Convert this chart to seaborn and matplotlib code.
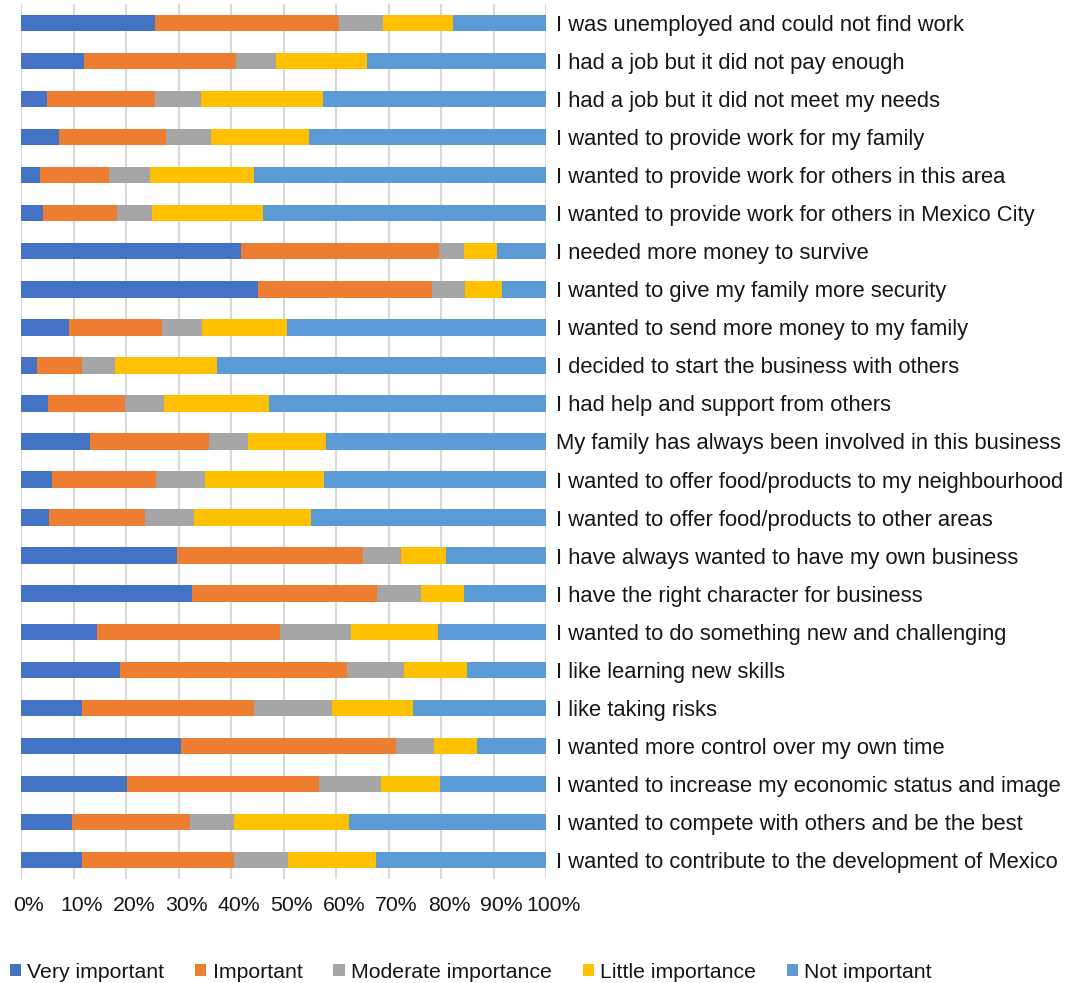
import matplotlib
matplotlib.use("Agg")
import matplotlib.pyplot as plt
import matplotlib.transforms as mtransforms
from matplotlib.patches import Patch
import numpy as np
import pandas as pd
import seaborn as sns

# Reasons for starting a business, share of responses per importance level (%)
reasons = [
    "I was unemployed and could not find work",
    "I had a job but it did not pay enough",
    "I had a job but it did not meet my needs",
    "I wanted to provide work for my family",
    "I wanted to provide work for others in this area",
    "I wanted to provide work for others in Mexico City",
    "I needed more money to survive",
    "I wanted to give my family more security",
    "I wanted to send more money to my family",
    "I decided to start the business with others",
    "I had help and support from others",
    "My family has always been involved in this business",
    "I wanted to offer food/products to my neighbourhood",
    "I wanted to offer food/products to other areas",
    "I have always wanted to have my own business",
    "I have the right character for business",
    "I wanted to do something new and challenging",
    "I like learning new skills",
    "I like taking risks",
    "I wanted more control over my own time",
    "I wanted to increase my economic status and image",
    "I wanted to compete with others and be the best",
    "I wanted to contribute to the development of Mexico",
]

very_important = [25.5, 12.0, 4.9, 7.2, 3.7, 4.2, 41.9, 45.2, 9.1, 3.0, 5.1, 13.2,
                  5.9, 5.3, 29.8, 32.6, 14.4, 18.9, 11.7, 30.5, 20.1, 9.7, 11.7]
important = [35.1, 28.9, 20.6, 20.5, 13.0, 14.0, 37.7, 33.1, 17.7, 8.7, 14.7, 22.6,
             19.9, 18.4, 35.3, 35.2, 34.9, 43.2, 32.6, 40.9, 36.7, 22.5, 28.8]
moderate = [8.3, 7.7, 8.8, 8.5, 7.9, 6.7, 4.8, 6.3, 7.7, 6.2, 7.4, 7.5,
            9.2, 9.2, 7.2, 8.3, 13.5, 10.9, 15.0, 7.3, 11.7, 8.3, 10.4]
little = [13.3, 17.3, 23.2, 18.7, 19.7, 21.2, 6.3, 7.0, 16.2, 19.4, 20.1, 14.7,
          22.7, 22.3, 8.6, 8.3, 16.6, 11.9, 15.4, 8.1, 11.4, 22.0, 16.7]
not_important = [17.8, 34.1, 42.5, 45.1, 55.7, 53.9, 9.3, 8.4, 49.3, 62.7, 52.7, 42.0,
                 42.3, 44.8, 19.1, 15.6, 20.6, 15.1, 25.3, 13.2, 20.1, 37.5, 32.4]

levels = ["Very important", "Important", "Moderate importance",
          "Little importance", "Not important"]
colors = ["#4472C4", "#ED7D31", "#A5A5A5", "#FFC000", "#5B9BD5"]
tick_values = list(range(0, 101, 10))
tick_labels = [f"{v}%" for v in tick_values]

df = pd.DataFrame(
    {"reason": reasons,
     levels[0]: very_important,
     levels[1]: important,
     levels[2]: moderate,
     levels[3]: little,
     levels[4]: not_important}
)
# normalise each row to 100 % and build cumulative extents for stacking
shares = df[levels].div(df[levels].sum(axis=1), axis=0) * 100
cumulative = shares.cumsum(axis=1)

sns.set_style("white")
plt.rcParams["font.family"] = ["Liberation Sans", "DejaVu Sans"]
text_color = "#161616"

W, H = 1079, 983
fig = plt.figure(figsize=(W / 100, H / 100), dpi=100)
ax = fig.add_axes([21 / W, 1 - 879 / H, (546 - 21) / W, (879 - 4) / H])

# draw the longest cumulative extent first so shorter ones sit on top
for level, color in reversed(list(zip(levels, colors))):
    sns.barplot(x=cumulative[level].values, y=df["reason"], order=reasons,
                orient="h", color=color, saturation=1, width=0.43,
                linewidth=0, ax=ax, zorder=3)

ax.set_xlim(0, 100)
ax.set_ylim(len(reasons) - 0.5, -0.5)
ax.set_xlabel("")
ax.set_ylabel("")
for s in ax.spines.values():
    s.set_visible(False)

ax.set_xticks(tick_values)
ax.set_xticklabels(tick_labels)
ax.xaxis.grid(True, color="#d9d9d9", linewidth=1.5, zorder=0)
ax.set_axisbelow(True)
ax.tick_params(axis="x", length=0, pad=12, labelsize=15.3, labelcolor=text_color)
offset = mtransforms.ScaledTranslation(8 / 100, 0, fig.dpi_scale_trans)
for lab in ax.get_xticklabels():
    lab.set_transform(lab.get_transform() + offset)

ax.yaxis.tick_right()
ax.tick_params(axis="y", length=0, pad=7, labelsize=15.8, labelcolor=text_color)

handles = [Patch(facecolor=c, edgecolor="none", label=l) for l, c in zip(levels, colors)]
fig.legend(handles=handles, loc="center left", bbox_to_anchor=(10 / W, 1 - 972 / H),
           ncol=5, frameon=False, fontsize=15.3, handlelength=0.52, handleheight=0.52,
           handletextpad=0.3, columnspacing=1.45, borderaxespad=0, borderpad=0,
           labelcolor=text_color)

fig.savefig("out.png", dpi=100)
